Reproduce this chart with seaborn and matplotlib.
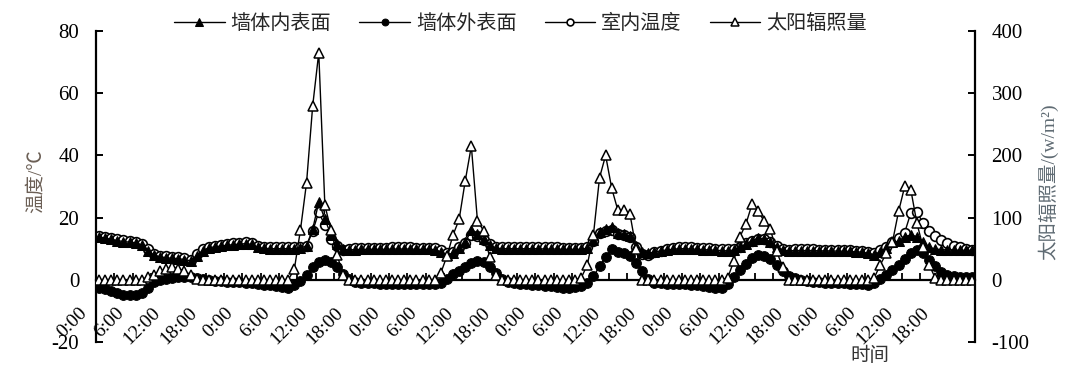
import numpy as np
import pandas as pd
import seaborn as sns
import matplotlib.pyplot as plt
import matplotlib.transforms as mtransforms

# hourly readings over six days
tick_labels = ["0:00", "6:00", "12:00", "18:00"] * 6

inner_wall = [
    13.8, 13.4, 13.0, 12.6, 12.3, 12.1, 11.9, 11.2, 9.4, 7.9, 7.4, 7.1, 6.9, 6.8, 6.5, 6.1, 7.8, 9.4, 10.3, 10.6, 10.9, 11.1, 11.3, 11.5,
    11.6, 11.4, 10.4, 10.1, 10.0, 10.0, 10.0, 10.0, 10.0, 10.1, 11.0, 16.2, 25.0, 19.5, 14.5, 11.6, 9.8, 9.6, 9.7, 9.8, 9.8, 9.8, 9.8, 9.8,
    9.9, 9.9, 9.9, 9.9, 9.8, 9.8, 9.8, 9.7, 9.0, 8.0, 8.6, 10.3, 12.0, 16.0, 14.6, 13.0, 11.2, 10.2, 10.0, 10.0, 10.0, 10.0, 10.0, 10.0,
    10.0, 9.9, 9.9, 9.9, 9.8, 9.8, 9.8, 9.8, 10.2, 12.8, 15.3, 16.4, 16.9, 15.0, 14.6, 14.0, 10.8, 9.0, 8.6, 8.9, 9.3, 9.6, 9.8, 10.0,
    10.0, 9.9, 9.8, 9.7, 9.6, 9.5, 9.4, 9.3, 9.6, 10.4, 11.5, 12.6, 13.4, 13.2, 12.2, 10.7, 9.6, 9.3, 9.4, 9.4, 9.4, 9.4, 9.3, 9.3,
    9.3, 9.2, 9.2, 9.1, 9.0, 8.9, 8.5, 8.1, 9.0, 10.2, 12.0, 12.4, 13.9, 14.4, 13.9, 12.3, 10.4, 9.9, 9.7, 9.6, 9.6, 9.5, 9.5, 9.5,
]

outer_wall = [
    -2.5, -3.0, -3.5, -4.2, -4.8, -4.9, -4.8, -4.3, -2.5, -0.8, 0.0, 0.4, 0.7, 0.9, 1.0, 0.9, 0.6, 0.2, -0.1, -0.3, -0.5, -0.6, -0.7, -0.8,
    -0.9, -1.0, -1.5, -1.6, -1.7, -1.9, -2.3, -2.7, -1.8, -0.5, 1.6, 4.0, 5.8, 6.3, 5.7, 4.0, 1.8, 0.2, -0.6, -0.9, -1.0, -1.1, -1.2, -1.2,
    -1.2, -1.3, -1.3, -1.4, -1.4, -1.5, -1.5, -1.4, -1.0, 0.3, 1.8, 2.8, 4.2, 5.3, 5.9, 5.6, 4.2, 2.2, 0.3, -0.7, -1.0, -1.2, -1.4, -1.6,
    -1.8, -1.9, -2.1, -2.3, -2.5, -2.5, -2.3, -1.9, -1.0, 1.1, 4.3, 7.3, 9.9, 8.9, 8.6, 7.5, 5.3, 2.7, 0.2, -1.0, -1.1, -1.2, -1.3, -1.4,
    -1.5, -1.6, -1.8, -2.0, -2.2, -2.5, -2.6, -1.2, 1.0, 3.2, 5.1, 7.1, 8.0, 7.8, 6.6, 4.8, 2.8, 1.2, 0.5, 0.0, -0.3, -0.6, -0.8, -1.0,
    -1.0, -1.1, -1.1, -1.2, -1.3, -1.5, -1.7, -1.1, 0.4, 1.6, 3.2, 4.8, 6.6, 8.6, 9.6, 8.6, 6.4, 4.3, 2.6, 1.6, 1.1, 0.9, 0.8, 0.8,
]

indoor = [
    14.2, 13.8, 13.4, 13.0, 12.7, 12.5, 12.3, 11.6, 9.8, 8.3, 7.8, 7.5, 7.3, 7.2, 6.9, 6.5, 8.2, 9.8, 10.7, 11.0, 11.3, 11.5, 11.7, 11.9,
    12.0, 11.8, 10.8, 10.5, 10.4, 10.4, 10.4, 10.4, 10.4, 10.5, 10.9, 15.6, 21.8, 17.5, 13.2, 11.0, 9.6, 9.8, 10.1, 10.3, 10.3, 10.3, 10.3, 10.3,
    10.4, 10.4, 10.4, 10.4, 10.3, 10.3, 10.3, 10.2, 9.5, 8.5, 9.0, 10.5, 11.8, 14.5, 14.0, 12.8, 11.4, 10.5, 10.5, 10.5, 10.6, 10.6, 10.5, 10.5,
    10.5, 10.4, 10.4, 10.4, 10.3, 10.3, 10.3, 10.3, 10.5, 12.5, 15.0, 15.6, 16.0, 14.8, 14.4, 13.6, 10.6, 8.4, 8.1, 8.8, 9.4, 9.9, 10.3, 10.6,
    10.6, 10.5, 10.3, 10.2, 10.1, 10.0, 9.9, 9.8, 10.0, 10.6, 11.7, 12.6, 13.2, 13.0, 12.2, 10.9, 9.9, 9.6, 9.8, 9.8, 9.8, 9.8, 9.7, 9.7,
    9.7, 9.6, 9.6, 9.5, 9.4, 9.3, 8.9, 8.5, 9.5, 10.5, 12.3, 13.5, 15.2, 21.5, 21.9, 18.2, 15.8, 14.1, 12.8, 11.8, 10.9, 10.5, 10.0, 9.6,
]

solar = [
    0, 0, 0, 0, 0, 0, 0, 0, 5, 8, 14, 17, 20, 18, 14, 8, 2, 0, 0, 0, 0, 0, 0, 0,
    0, 0, 0, 0, 0, 0, 0, 0, 17, 80, 156, 279, 365, 120, 80, 40, 8, 0, 0, 0, 0, 0, 0, 0,
    0, 0, 0, 0, 0, 0, 0, 0, 11, 38, 72, 97, 159, 215, 95, 79, 36, 8, 0, 0, 0, 0, 0, 0,
    0, 0, 0, 0, 0, 0, 0, 3, 24, 72, 164, 200, 147, 112, 112, 105, 50, 0, 0, 0, 0, 0, 0, 0,
    0, 0, 0, 0, 0, 0, 0, 3, 30, 69, 90, 122, 110, 94, 81, 46, 21, 0, 0, 0, 0, 0, 0, 0,
    0, 0, 0, 0, 0, 0, 0, 3, 24, 43, 61, 110, 150, 145, 91, 53, 24, 3, 0, 0, 0, 0, 0, 0,
]

df = pd.DataFrame({
    "hour": np.arange(len(solar)) + 0.5,
    "inner": inner_wall,
    "outer": outer_wall,
    "indoor": indoor,
    "solar": solar,
})

sns.set_style("ticks")
plt.rcParams["font.family"] = ["Liberation Serif", "Noto Sans CJK SC"]
plt.rcParams["axes.unicode_minus"] = False

fig, ax = plt.subplots(figsize=(10.82, 3.85), dpi=100)
fig.subplots_adjust(left=0.0887, right=0.901, bottom=0.1117, top=0.9195)
ax2 = ax.twinx()

line_kw = dict(color="black", linewidth=1.0, errorbar=None)
# inner wall drawn above the indoor circles so the band reads dark
sns.lineplot(data=df, x="hour", y="inner", ax=ax, marker="^", markersize=7.5,
             markerfacecolor="black", markeredgecolor="black", label="墙体内表面",
             zorder=3, **line_kw)
sns.lineplot(data=df, x="hour", y="outer", ax=ax, marker="o", markersize=7,
             markerfacecolor="black", markeredgecolor="black", label="墙体外表面",
             zorder=2.5, **line_kw)
sns.lineplot(data=df, x="hour", y="indoor", ax=ax, marker="o", markersize=7,
             markerfacecolor="white", markeredgecolor="black", markeredgewidth=1.2,
             label="室内温度", zorder=2.2, **line_kw)
sns.lineplot(data=df, x="hour", y="solar", ax=ax2, marker="^", markersize=7.5,
             markerfacecolor="white", markeredgecolor="black", markeredgewidth=1.1,
             label="太阳辐照量", **line_kw)

# axes ranges and spines
ax.set_xlim(0, 144)
ax.set_ylim(-20, 80)
ax2.set_ylim(-100, 400)
ax.set_yticks(np.arange(-20, 81, 20))
ax2.set_yticks(np.arange(-100, 401, 100))

for s in ["top", "right"]:
    ax.spines[s].set_visible(False)
for s in ["top", "left", "bottom"]:
    ax2.spines[s].set_visible(False)
ax.spines["bottom"].set_position(("data", 0))
for sp in [ax.spines["left"], ax.spines["bottom"], ax2.spines["right"]]:
    sp.set_linewidth(1.6)
    sp.set_color("black")

ax.set_xticks(np.arange(0, 145, 3))
ax.set_xticklabels([])
ax.tick_params(axis="x", direction="in", length=5, width=1.3, color="black")
ax.tick_params(axis="y", direction="in", length=5, width=1.4, pad=12,
               labelsize=15, colors="black")
ax2.tick_params(axis="y", direction="in", length=5, width=1.4, pad=12,
                labelsize=15, colors="black")

# time labels sit at the bottom of the frame, not on the zero line
trans = mtransforms.blended_transform_factory(ax.transData, ax.transAxes)
for k, lab in enumerate(tick_labels):
    ax.text(k * 6 - 0.9, 0.122, lab, transform=trans, rotation=45,
            ha="right", va="top", fontsize=14, color="black")

ax.set_xlabel("")
ax.set_ylabel("温度/℃", fontsize=14, color="#6b5f55")
ax.yaxis.set_label_coords(-0.058, 0.518)
ax2.set_ylabel("太阳辐照量/(w/m²)", fontsize=14, color="#5f6b73")
ax2.yaxis.set_label_coords(1.072, 0.514)
ax.text(0.8805, -0.045, "时间", transform=ax.transAxes, ha="center",
        va="center", fontsize=14, color="#333333")

h1, l1 = ax.get_legend_handles_labels()
h2, l2 = ax2.get_legend_handles_labels()
ax.get_legend().remove()
ax2.get_legend().remove()
ax2.legend(h1 + h2, l1 + l2, loc="center", bbox_to_anchor=(0.483, 1.02), ncol=4,
           frameon=False, fontsize=14.5, handlelength=2.5, handletextpad=0.3,
           columnspacing=1.4, markerscale=0.7)

plt.savefig("out.png", dpi=100)
